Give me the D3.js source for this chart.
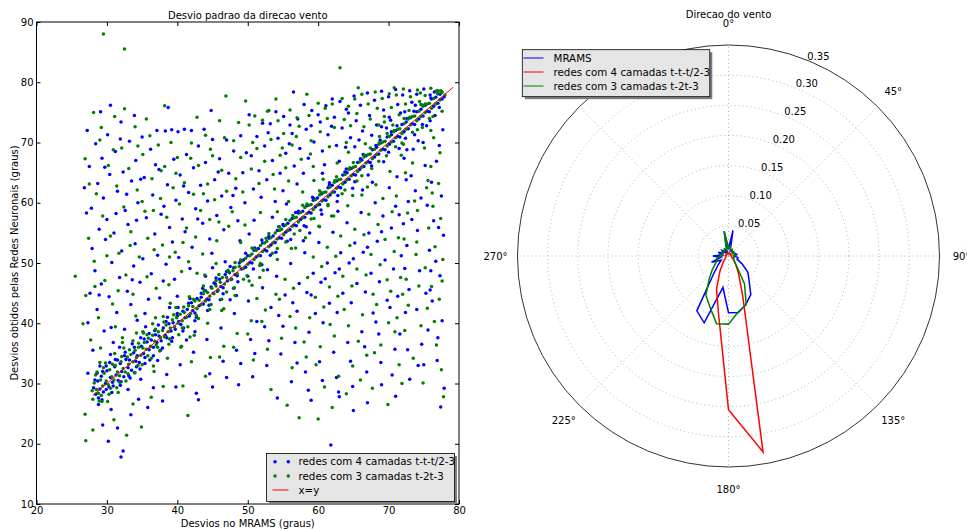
<!DOCTYPE html>
<html>
<head>
<meta charset="utf-8">
<script src="https://cdn.jsdelivr.net/npm/d3@7/dist/d3.min.js"></script>
<style>
  body { margin: 0; background: #fff; }
  svg { display: block; }
  text { font-family: "DejaVu Sans", sans-serif; font-size: 10px; fill: #000; }
</style>
</head>
<body>
<svg id="chart" width="967" height="529"></svg>
<script>
// ---------- scatter: standard deviation of wind direction ----------
const xTicks = [20, 30, 40, 50, 60, 70, 80];
const yTicks = [10, 20, 30, 40, 50, 60, 70, 80, 90];
const scatterLabels = ["redes com 4 camadas t-t-t/2-3", "redes com 3 camadas t-2t-3", "x=y"];

// 4-layer network: points along the diagonal
const blueBand = [[28.1,29.3],[28.4,28.2],[28.7,30.4],[29.0,29.1],[29.2,31.2],[29.5,28.6],[29.8,30.0],[30.0,32.1],[30.3,29.4],[30.5,31.0],[30.8,30.2],[31.1,32.8],[31.3,31.4],[31.6,30.5],[31.9,33.3],[32.1,32.0],[32.4,31.1],[32.7,34.0],[33.0,32.6],[33.2,33.9],[33.5,32.2],[33.8,35.1],[34.1,33.7],[34.3,34.6],[34.6,33.5],[34.9,36.2],[35.2,35.0],[35.4,34.3],[35.7,36.9],[36.0,35.6],[36.3,37.2],[36.6,36.0],[36.9,38.1],[37.1,36.8],[37.4,37.9],[37.7,37.1],[38.0,39.2],[38.3,38.0],[38.5,37.6],[38.8,39.9],[39.1,38.7],[39.4,40.1],[39.7,39.0],[40.0,41.2],[40.2,40.3],[40.5,39.8],[40.8,42.0],[41.1,40.9],[41.4,42.3],[41.7,41.2],[42.0,43.4],[42.2,42.1],[42.5,41.7],[42.8,44.1],[43.1,42.9],[43.4,44.3],[43.7,43.2],[44.0,45.4],[44.2,44.0],[44.5,43.9],[44.8,46.0],[45.1,45.0],[45.4,46.5],[45.7,45.3],[46.0,47.3],[46.2,46.1],[46.5,45.9],[46.8,48.1],[47.1,47.0],[47.4,48.4],[47.7,47.3],[48.0,49.2],[48.2,48.1],[48.5,47.9],[48.8,50.0],[49.1,49.0],[49.4,50.5],[49.7,49.3],[50.0,51.2],[50.3,50.1],[50.6,50.0],[50.9,52.1],[51.2,51.0],[51.5,52.4],[51.8,51.2],[52.1,53.3],[52.4,52.2],[52.7,52.0],[53.0,54.1],[53.3,53.0],[53.6,54.5],[53.9,53.4],[54.2,55.4],[54.5,54.2],[54.8,54.1],[55.1,56.2],[55.4,55.1],[55.7,56.6],[56.0,55.5],[56.3,57.4],[56.6,56.3],[56.9,56.2],[57.2,58.3],[57.5,57.2],[57.8,58.6],[58.1,57.6],[58.4,59.5],[58.7,58.4],[59.0,58.3],[59.3,60.4],[59.6,59.3],[59.9,60.8],[60.2,59.7],[60.5,61.5],[60.8,60.5],[61.1,60.4],[61.4,62.5],[61.7,61.3],[62.0,62.9],[62.3,61.8],[62.6,63.6],[62.9,62.6],[63.2,62.5],[63.5,64.6],[63.8,63.4],[64.1,65.0],[64.4,63.9],[64.7,65.7],[65.0,64.7],[65.3,64.6],[65.6,66.7],[65.9,65.5],[66.2,67.1],[66.5,66.0],[66.8,67.8],[67.1,66.8],[67.4,66.7],[67.7,68.8],[68.0,67.6],[68.3,69.2],[68.6,68.1],[68.9,69.9],[69.2,68.9],[69.5,68.8],[69.8,70.9],[70.1,69.7],[70.4,71.3],[70.7,70.2],[71.0,72.0],[71.3,71.0],[71.6,70.9],[71.9,73.0],[72.2,71.8],[72.5,73.4],[72.8,72.3],[73.1,74.1],[73.4,73.1],[73.7,73.0],[74.0,75.1],[74.3,73.9],[74.6,75.5],[74.9,74.4],[75.2,76.2],[75.5,75.2],[75.8,75.1],[76.1,77.2],[76.4,76.0],[76.7,77.5],[77.0,76.5],[77.3,78.0],[77.6,77.2],[77.9,77.6]];

// 4-layer network: the looser edge of the diagonal band
const blueHalo = [[28.6,31.7],[29.3,27.3],[29.9,32.9],[30.7,28.5],[31.2,34.0],[31.9,29.7],[32.6,35.2],[33.3,30.9],[33.9,36.0],[34.7,32.4],[35.3,37.4],[36.1,33.9],[36.8,38.8],[37.6,35.5],[38.4,40.3],[39.2,37.0],[40.0,41.6],[40.8,38.7],[41.6,43.3],[42.5,40.4],[43.4,45.0],[44.3,42.1],[45.2,46.7],[46.1,43.9],[47.0,48.6],[48.0,45.8],[49.0,50.4],[50.0,47.8],[51.0,52.5],[52.0,49.7],[53.0,54.4],[54.0,51.8],[55.0,56.4],[56.1,53.9],[57.2,58.6],[58.3,56.0],[59.4,60.7],[60.5,58.1],[61.6,62.9],[62.7,60.2],[63.8,65.1],[64.9,62.4],[66.0,67.3],[67.1,64.6],[68.2,69.5],[69.3,66.8],[70.4,71.8],[71.5,69.0],[72.6,74.0],[73.7,71.3],[74.8,76.2],[75.9,73.6],[77.0,78.1],
  [28.3,30.6],[28.8,27.6],[29.4,32.0],[29.9,29.0],[30.4,33.5],[30.9,29.6],[31.5,33.9],[32.0,30.3],[32.5,34.6],[33.1,31.3],[33.6,36.6],[34.2,32.8],[34.8,37.6],[35.4,33.3],[36.0,38.3],[36.6,34.6],[37.3,39.7],[37.9,35.9],[38.6,41.0],[39.3,37.6],[40.1,42.6],[40.9,39.2],[41.8,44.1],[42.7,41.0],[43.6,45.8],[44.5,43.0],[45.5,47.5],[46.5,44.9],[47.5,49.4],[48.6,46.9],[49.7,51.6],[50.8,49.0],[52.0,53.8],[53.2,51.3],[54.4,56.0],[55.6,53.6],[56.8,58.4],[58.0,56.2],[59.2,60.9],[60.4,58.8],[61.6,63.3],[62.8,61.2],[64.0,65.6],[65.2,63.5],[66.4,68.0],[67.6,66.1],[68.8,70.4],[70.0,68.4],[71.2,72.8],[72.4,70.7],[73.6,75.2],[74.8,73.0],[76.0,77.4],[77.2,75.8],
  [30.5,34.8],[33.0,29.0],[35.5,39.4],[37.2,33.8],[40.0,44.5],[42.5,38.6],[45.0,49.2],[47.5,43.9],[50.2,54.8],[52.8,48.9],[55.5,59.8],[57.9,53.7],[60.6,64.9],[62.8,58.6],[65.2,69.3],[67.7,63.4],[70.1,74.2],[72.6,68.8],[31.8,36.0],[34.8,30.7],[38.9,42.6],[41.3,37.2],[44.0,47.8],[48.4,44.6],[53.5,57.6],[58.8,55.0],[63.0,66.9],[66.3,62.1],[69.0,72.6],[74.2,70.3]];

// 4-layer network: points away from the diagonal
const blueCloud = [[26.8,62.5],[27.2,72.0],[27.5,66.0],[27.1,58.3],[27.9,52.4],[27.6,45.0],[27.3,40.1],[28.0,35.5],[28.4,69.8],[28.7,63.2],[28.9,55.6],[28.3,48.7],[28.6,42.3],[29.1,75.1],[29.3,67.4],[29.5,60.8],[29.8,53.9],[29.2,46.5],[29.6,38.7],[30.1,71.3],[30.4,64.7],[30.0,57.2],[30.7,50.1],[30.3,44.4],[30.9,36.8],[31.2,68.5],[31.5,61.9],[31.0,55.0],[31.8,47.6],[31.4,41.8],[32.0,73.4],[32.3,65.1],[32.6,58.7],[32.1,52.0],[32.9,45.3],[32.5,39.0],[33.2,70.2],[33.5,63.6],[33.0,56.4],[33.8,49.5],[33.4,43.1],[34.1,67.0],[34.4,60.0],[34.0,53.2],[34.7,46.8],[34.3,40.5],[35.0,70.9],[35.3,64.2],[35.6,57.5],[35.1,50.7],[35.9,44.0],
  [36.2,68.9],[36.5,61.3],[36.8,54.8],[36.3,48.2],[37.1,72.0],[37.4,65.5],[37.7,58.1],[37.2,51.3],[38.0,47.0],[38.3,71.9],[38.6,63.0],[38.9,55.9],[38.4,49.8],[39.2,72.1],[39.5,67.2],[39.8,60.4],[39.3,53.5],[40.1,71.8],[40.4,64.6],[40.7,57.3],[40.2,50.9],[41.0,72.2],[41.3,68.0],[41.6,61.7],[41.1,55.2],[42.0,72.0],[42.3,65.8],[42.6,59.0],[42.1,52.6],[43.0,69.4],[43.3,62.9],[43.6,56.6],[44.0,66.7],[44.3,60.3],[44.6,54.0],[45.0,70.5],[45.3,63.8],[45.6,57.9],[46.0,67.3],[46.3,61.1],[46.6,55.5],[47.0,70.4],[47.3,64.9],[47.6,59.2],[48.0,68.6],[48.3,62.4],[48.6,57.0],[49.0,71.1],[49.3,65.0],[49.6,60.0],
  [50.2,74.6],[50.5,67.8],[50.8,62.3],[51.3,71.0],[51.6,65.3],[52.1,73.2],[52.4,69.4],[52.7,63.8],[53.2,73.1],[53.5,67.0],[54.0,75.1],[54.3,70.7],[54.6,64.9],[55.1,74.3],[55.4,68.2],[56.0,72.9],[56.3,71.5],[56.6,66.1],[57.1,73.9],[57.4,69.0],[58.0,76.3],[58.3,72.2],[58.6,67.4],[59.1,75.3],[59.4,70.1],[60.0,74.6],[60.3,73.4],[60.6,68.6],[61.1,76.1],[61.4,71.3],[62.0,77.2],[62.3,74.2],[62.6,69.5],[63.1,76.8],[63.4,72.4],[64.0,75.5],[64.3,74.9],[64.6,70.8],
  [65.1,77.7],[65.4,73.6],[66.0,76.2],[66.3,71.9],[67.0,78.2],[67.3,74.5],[68.0,77.0],[68.3,72.9],[69.0,78.5],[69.3,75.4],[70.0,77.6],[70.3,73.7],[71.0,78.8],[71.3,76.3],[72.0,77.9],[72.3,75.1],[73.0,78.6],[73.3,76.7],[74.0,78.0],[75.0,78.9],[75.9,77.9],[76.5,78.4],[77.3,77.1],
  [72.2,67.4],[72.5,63.8],[72.8,60.2],[72.1,56.5],[72.6,52.9],[72.3,49.1],[72.9,45.6],[72.4,41.8],[73.5,68.9],[73.8,62.0],[74.1,55.4],[74.4,48.7],[74.0,42.3],[74.7,36.5],[75.2,66.2],[75.5,59.6],[75.8,52.1],[75.3,45.0],[75.6,38.9],[76.1,63.4],[76.4,57.0],[76.7,50.3],[76.2,43.7],[76.9,33.8],[77.2,69.5],[77.5,61.1],[77.8,54.6],[77.3,47.9],[77.6,40.4],[77.9,29.2],[77.4,26.1],
  [70.1,62.5],[70.4,55.8],[70.7,49.0],[70.2,42.6],[70.9,35.7],[71.2,64.3],[71.5,58.0],[71.8,51.2],[71.3,44.5],[71.6,38.2],[68.1,60.0],[68.4,53.6],[68.7,46.9],[68.2,40.2],[68.9,33.5],[69.2,57.8],[69.5,50.5],[69.8,43.8],[66.1,58.4],[66.4,51.8],[66.7,45.2],[66.2,38.6],[66.9,31.9],[67.2,55.0],[67.5,48.3],[67.8,41.7],[64.1,56.7],[64.4,50.0],[64.7,43.4],[64.2,36.8],[64.9,29.5],[65.2,53.3],[65.5,46.6],[62.1,55.1],[62.4,48.4],[62.7,41.8],[62.2,35.2],[62.9,28.6],[63.2,51.7],[63.5,45.0],[60.1,53.4],[60.4,46.8],[60.7,40.1],[60.2,33.6],[61.8,19.8],[61.3,50.0],[61.6,43.3],[58.1,51.7],[58.4,45.1],[58.7,38.5],[58.2,31.9],[59.3,48.3],[59.6,41.6],[56.1,49.9],[56.4,43.4],[56.7,36.8],[56.2,30.3],[57.3,46.6],[54.1,47.8],[54.4,41.3],[54.7,34.9],[54.2,27.6],[55.3,44.7],[52.1,45.9],[52.4,39.4],[52.7,33.0],[53.3,42.6],[50.1,43.7],[50.4,37.3],[50.7,31.1],[51.3,40.3],[48.1,41.6],[48.4,35.5],[48.7,29.8],[46.2,39.2],[46.5,33.7],[44.2,37.3],[44.6,31.6],[42.3,35.2],[42.7,28.4],[40.4,33.1],[38.5,31.5],[36.6,29.3],
  [32.0,17.8],[32.3,18.8],[30.2,20.4],[29.4,23.1],[30.6,25.7],[31.5,22.6],[33.4,24.8],[28.8,26.5],[34.5,27.4],[27.3,31.7],[29.0,32.9],
  [27.8,59.1],[28.9,44.7],[29.7,65.9],[30.6,39.3],[31.3,58.2],[31.9,70.6],[32.8,61.4],[33.6,47.2],[34.2,57.1],[34.8,63.9],[35.4,41.6],[36.9,66.3],[37.5,44.2],[38.1,59.4],[39.6,47.3],[40.9,62.8],[41.8,49.1],[42.9,57.3],[43.8,72.2],[44.9,51.6],[45.8,65.1],[46.8,50.2],[47.9,61.2],[48.9,53.7],[49.8,68.3],[50.9,57.1],[51.9,60.9],[52.9,71.6],[53.9,60.2],[55.0,62.0],[55.9,69.8],[57.0,63.1],[57.9,64.9],[59.0,72.8],[60.9,66.3],[61.9,72.7],[63.9,69.2],[65.8,70.4],[67.6,71.2],[69.7,72.4],[71.7,74.9],[73.8,76.2],[75.4,72.8],[76.6,74.5],[77.7,72.1],[74.9,70.0],[73.2,64.5],[71.0,59.4],[69.0,55.2],[67.0,52.6],[65.0,50.7],[63.0,49.0],[61.0,47.4],[59.0,44.7],[57.0,42.0],[55.0,39.5],[53.0,37.1],[51.0,35.0],[49.0,33.3],[47.0,31.0],[45.0,29.4],[43.0,27.3],[39.8,29.4],[37.9,27.1],[35.8,26.0],[76.0,48.7],[77.0,37.6],[75.0,33.1],[73.0,30.7],[71.0,27.9],[69.0,29.8],[67.0,26.8],[65.0,25.5],[63.0,27.8],[59.0,27.2],[57.0,33.4],[74.6,60.8],[76.8,66.9],[73.3,57.2],[75.9,45.5],[77.1,55.9],[72.7,35.6],[74.2,33.0],[70.5,31.4],[68.6,38.2],[66.6,36.1],[64.6,33.7],[62.6,31.0],[60.6,30.5],[58.6,28.9],[44.8,75.3],[38.7,75.8],[33.9,74.5],[30.5,76.2],[56.5,78.4]];

// 3-layer network: points along the diagonal
const greenBand = [[27.9,28.8],[28.2,30.1],[28.5,29.0],[28.8,28.4],[29.1,30.6],[29.4,29.6],[29.6,31.7],[29.9,30.4],[30.2,29.8],[30.4,32.3],[30.7,31.1],[31.0,30.6],[31.2,33.0],[31.5,31.9],[31.8,31.3],[32.0,33.6],[32.3,32.5],[32.6,31.9],[32.9,34.4],[33.1,33.2],[33.4,34.8],[33.7,33.6],[34.0,35.5],[34.2,34.3],[34.5,36.0],[34.8,34.7],[35.1,35.9],[35.3,36.8],[35.6,35.7],[35.9,37.5],[36.2,36.2],[36.5,38.0],[36.8,37.0],[37.0,36.4],[37.3,38.6],[37.6,37.6],[37.9,38.8],[38.2,37.7],[38.4,39.7],[38.7,38.6],[39.0,39.2],[39.3,40.6],[39.6,39.4],[39.9,40.9],[40.1,40.0],[40.4,41.5],[40.7,40.4],[41.0,41.8],[41.3,41.0],[41.6,42.9],[41.9,41.6],[42.2,42.8],[42.5,43.7],[42.8,42.4],[43.1,43.8],[43.4,43.1],[43.7,44.9],[44.0,43.7],[44.3,45.1],[44.6,44.5],[44.9,45.8],[45.2,44.9],[45.5,46.2],[45.8,45.5],[46.1,46.8],[46.4,47.6],[46.7,46.5],[47.0,47.6],[47.3,48.5],[47.6,47.2],[47.9,48.7],[48.2,49.3],[48.5,48.2],[48.8,49.4],[49.1,50.3],[49.4,49.1],[49.7,50.8],[50.0,49.8],[50.3,51.2],[50.6,51.5],[50.9,50.6],[51.2,52.1],[51.5,51.2],[51.8,52.9],[52.1,51.9],[52.4,53.3],[52.7,53.6],[53.0,52.7],[53.3,54.2],[53.6,53.3],[53.9,55.0],[54.2,54.0],[54.5,55.4],[54.8,55.6],[55.1,54.7],[55.4,56.3],[55.7,55.4],[56.0,57.1],[56.3,56.1],[56.6,57.5],[56.9,57.6],[57.2,56.8],[57.5,58.4],[57.8,57.5],[58.1,59.2],[58.4,58.2],[58.7,59.6],[59.0,59.7],[59.3,58.9],[59.6,60.5],[59.9,59.6],[60.2,61.3],[60.5,60.3],[60.8,61.7],[61.1,61.8],[61.4,61.0],[61.7,62.6],[62.0,61.7],[62.3,63.4],[62.6,62.4],[62.9,63.8],[63.2,63.9],[63.5,63.1],[63.8,64.7],[64.1,63.8],[64.4,65.5],[64.7,64.5],[65.0,65.9],[65.3,66.0],[65.6,65.2],[65.9,66.8],[66.2,65.9],[66.5,67.6],[66.8,66.6],[67.1,68.0],[67.4,68.1],[67.7,67.3],[68.0,68.9],[68.3,68.0],[68.6,69.7],[68.9,68.7],[69.2,70.1],[69.5,70.2],[69.8,69.4],[70.1,71.0],[70.4,70.1],[70.7,71.8],[71.0,70.8],[71.3,72.2],[71.6,72.3],[71.9,71.5],[72.2,73.1],[72.5,72.2],[72.8,73.9],[73.1,72.9],[73.4,74.3],[73.7,74.4],[74.0,73.6],[74.3,75.2],[74.6,74.3],[74.9,76.0],[75.2,75.0],[75.5,76.4],[75.8,76.5],[76.1,75.7],[76.4,77.3],[76.7,76.4],[77.0,78.1],[77.3,77.1],[77.6,78.4],[78.0,77.9]];

// 3-layer network: the looser edge of the diagonal band
const greenHalo = [[28.4,31.4],[28.9,27.1],[29.5,32.6],[30.3,28.2],[30.8,33.2],[31.4,29.3],[32.1,34.5],[32.7,30.4],[33.2,35.6],[33.9,31.8],[34.5,36.7],[35.0,33.1],[35.7,38.1],[36.3,34.2],[36.9,39.0],[37.5,35.4],[38.1,40.2],[38.8,36.5],[39.5,41.4],[40.2,38.1],[40.9,42.7],[41.5,39.4],[42.3,44.0],[43.0,40.8],[43.8,45.4],[44.6,42.3],[45.5,47.1],[46.3,44.0],[47.2,48.8],[48.1,45.9],[49.0,50.5],[49.9,47.9],[50.8,52.4],[51.7,49.6],[52.6,54.1],[53.5,51.6],[54.5,56.0],[55.4,53.5],[56.4,57.9],[57.4,55.4],[58.4,59.8],[59.4,57.4],[60.4,61.7],[61.4,59.5],[62.4,63.7],[63.4,61.5],[64.5,65.8],[65.5,63.6],[66.6,67.9],[67.6,65.7],[68.7,70.0],[69.7,67.8],[70.8,72.0],[71.9,69.9],[73.0,74.2],[74.1,72.1],[75.2,76.4],[76.3,74.3],[77.4,78.6],
  [28.0,27.4],[28.6,31.9],[29.2,28.0],[29.8,33.4],[30.5,29.2],[31.1,35.0],[31.8,30.2],[32.4,35.9],[33.0,31.6],[33.7,37.1],[34.4,33.0],[35.1,38.6],[35.8,34.6],[36.5,39.9],[37.2,36.0],[38.0,41.1],[38.9,37.4],[39.8,42.6],[40.7,39.2],[41.7,44.4],[42.7,41.3],[43.7,46.2],[44.8,43.1],[45.9,48.1],[47.0,45.2],[48.2,50.1],[49.4,47.3],[50.6,52.5],[51.8,49.9],[53.0,54.9],[54.2,52.4],[55.4,57.2],[56.6,54.8],[57.8,59.6],[59.0,57.3],[60.2,62.0],[61.4,59.7],[62.6,64.3],[63.8,62.1],[65.0,66.7],[66.2,64.5],[67.4,69.1],[68.6,66.9],[69.8,71.5],[71.0,69.3],[72.2,74.0],[73.4,71.7],[74.6,76.3],[75.8,74.0],[77.0,78.6],
  [29.0,33.5],[31.6,28.5],[34.2,38.4],[36.6,32.9],[39.0,43.3],[41.8,37.7],[43.9,48.0],[46.6,42.4],[49.0,53.4],[51.7,47.6],[54.2,58.5],[56.8,52.5],[59.4,63.7],[61.9,57.8],[64.3,68.4],[67.0,62.6],[69.4,73.4],[71.8,67.9],[74.5,78.2],[76.0,72.0],[30.1,27.0],[32.2,36.8],[36.9,40.9],[40.6,36.2],[45.5,49.9],[50.6,46.3],[55.8,60.2],[60.1,56.1],[64.9,61.2],[68.6,72.9]];

// 3-layer network: points away from the diagonal
const greenCloud = [[26.9,67.3],[27.4,54.1],[27.0,44.6],[27.7,37.2],[28.1,75.0],[28.5,61.5],[28.2,50.3],[28.8,40.9],[29.0,70.4],[29.4,57.8],[29.7,47.1],[29.1,35.9],[30.2,66.2],[30.5,54.5],[30.8,43.2],[31.1,74.3],[31.4,62.8],[31.7,51.6],[31.2,39.4],[32.1,69.1],[32.4,59.3],[32.7,48.0],[32.2,37.6],[33.1,65.7],[33.4,55.2],[33.7,44.8],[34.0,72.6],[34.3,62.1],[34.6,51.0],[34.1,41.2],[35.1,68.0],[35.4,58.6],[35.7,47.7],[35.2,38.4],
  [36.1,71.1],[36.4,64.0],[36.7,52.2],[37.0,45.8],[37.3,69.6],[37.6,60.7],[37.9,53.0],[38.2,66.0],[38.5,57.6],[38.8,46.4],[39.1,70.0],[39.4,62.5],[39.7,51.8],[40.0,67.5],[40.3,59.8],[40.6,48.6],[41.0,63.3],[41.3,55.8],[41.6,50.2],[42.0,69.9],[42.3,61.4],[42.6,54.3],[43.0,66.2],[43.3,58.7],[43.6,51.5],[44.0,71.2],[44.3,63.1],[44.6,57.2],[45.0,67.8],[45.3,60.5],[45.6,53.7],[46.0,73.6],[46.3,65.4],[46.9,77.7],[47.0,61.9],[47.3,56.1],[48.0,70.3],[48.3,64.0],[49.0,67.5],[49.3,61.8],
  [50.2,72.9],[50.5,65.6],[51.0,74.4],[51.3,69.0],[51.6,63.2],[52.1,73.7],[52.4,66.9],[53.0,75.3],[53.3,70.5],[53.6,64.7],[54.0,77.2],[54.3,73.6],[54.6,67.9],[55.1,71.5],[55.4,65.8],[56.0,75.4],[56.3,69.6],[57.0,74.1],[57.3,72.7],[57.6,67.2],[58.4,78.0],[58.7,74.5],[59.0,70.3],[59.3,66.0],[60.0,76.5],[60.3,71.8],[61.0,75.7],[61.3,74.0],[61.6,69.3],[62.0,76.4],[62.3,72.5],[63.1,82.4],[63.4,77.3],[63.7,73.8],[64.0,70.0],[64.3,76.0],
  [65.2,77.2],[65.7,79.1],[65.5,74.8],[66.2,78.0],[66.5,72.6],[67.1,76.4],[67.4,73.9],[68.1,78.4],[68.4,75.7],[69.1,77.3],[69.4,74.3],[70.1,78.1],[70.4,75.8],[70.8,79.1],[71.1,77.9],[71.5,74.6],[72.1,78.9],[72.4,76.4],[73.1,77.6],[74.1,78.7],[74.4,76.8],[75.2,77.8],[76.0,79.0],[76.8,78.6],[77.5,78.3],
  [72.1,69.7],[72.4,65.0],[72.7,58.3],[72.2,54.0],[72.5,47.3],[72.8,43.0],[72.3,38.8],[73.4,66.6],[73.7,60.3],[74.0,53.5],[74.3,46.2],[74.6,39.6],[75.1,69.1],[75.4,62.5],[75.7,55.8],[75.2,49.2],[75.5,42.5],[76.0,66.0],[76.3,59.4],[76.6,52.7],[76.1,46.1],[76.8,36.4],[77.1,63.2],[77.4,57.4],[77.7,50.6],[77.2,44.0],[77.5,32.3],[77.8,27.8],
  [70.2,65.2],[70.5,58.5],[70.8,51.9],[70.3,45.3],[70.9,38.6],[71.1,61.1],[71.4,54.2],[71.7,47.6],[71.2,40.9],[71.5,33.1],[68.2,63.0],[68.5,56.4],[68.8,49.7],[68.3,43.1],[68.9,36.4],[69.2,60.7],[69.5,53.9],[69.8,47.2],[66.2,61.3],[66.5,54.7],[66.8,48.0],[66.3,41.4],[66.9,34.7],[67.2,58.1],[67.5,51.4],[67.8,44.8],[64.2,59.5],[64.5,52.9],[64.8,46.2],[64.3,39.6],[64.9,32.9],[65.2,55.6],[65.5,49.0],[62.2,57.8],[62.5,51.1],[62.8,44.5],[62.3,37.9],[62.9,31.2],[63.2,54.5],[63.5,47.8],[60.2,56.0],[60.5,49.4],[60.8,42.7],[60.3,36.1],[60.9,29.4],[61.3,52.6],[61.6,46.0],[58.2,54.2],[58.5,47.6],[58.8,40.9],[58.3,34.4],[59.3,51.0],[59.6,44.3],[56.2,52.4],[56.5,45.8],[56.8,39.2],[56.3,32.6],[57.3,24.3],[54.2,50.6],[54.5,44.0],[54.8,37.5],[55.3,47.3],[52.2,48.8],[52.5,42.2],[52.8,35.7],[53.3,29.0],[50.2,47.0],[50.5,40.4],[50.8,33.9],[51.3,44.1],[48.2,44.6],[48.5,38.3],[46.3,42.1],[46.6,36.2],[44.3,40.0],[44.7,34.3],[42.4,38.0],[40.5,36.0],[40.8,29.6],[38.6,34.2],[36.7,32.0],[41.5,24.7],
  [27.0,20.5],[26.9,24.9],[28.0,22.3],[29.3,27.0],[31.0,24.0],[32.8,21.4],[33.7,26.6],[25.5,47.8],[26.6,39.9],[29.5,88.0],[32.5,85.5],[34.9,22.8],
  [27.5,63.1],[28.3,46.1],[29.2,72.5],[30.0,51.2],[30.9,68.8],[31.6,45.4],[32.5,75.6],[33.3,52.9],[34.4,69.4],[35.0,60.2],[35.8,54.1],[36.6,58.7],[37.7,65.3],[38.9,51.0],[39.8,64.9],[40.8,53.4],[41.9,67.4],[42.8,48.3],[43.7,61.5],[44.7,68.9],[45.9,56.8],[46.7,70.8],[47.8,58.5],[48.7,73.3],[49.6,56.3],[50.7,70.0],[51.8,58.4],[52.8,75.2],[53.8,62.3],[54.9,69.1],[55.8,63.6],[56.9,71.0],[57.8,61.8],[58.9,68.1],[60.7,63.9],[62.7,66.6],[64.6,72.8],[66.7,69.8],[68.7,71.0],[70.6,72.9],[72.9,75.3],[74.8,72.5],[76.4,70.8],[77.6,75.2],[75.6,63.7],[73.9,51.4],[72.0,44.8],[70.0,40.1],[68.0,35.1],[66.0,30.6],[64.0,28.3],[62.0,26.0],[60.0,24.1],[55.6,26.4],[58.0,36.9],[56.0,41.1],[54.0,44.8],[52.0,40.3],[50.0,38.2],[48.0,36.0],[46.0,34.4],[44.0,31.2],[42.0,33.6],[38.0,29.5],[36.3,27.7],[34.0,31.8],[76.5,40.3],[77.6,47.0],[74.9,30.1],[73.5,34.2],[71.9,30.0],[69.9,26.5],[67.7,29.2],[65.7,37.0],[63.7,42.3],[61.7,39.8],[59.7,33.1],[76.2,61.6],[74.1,58.7],[77.3,68.3],[38.2,76.1],[42.8,74.2],[49.7,76.9],[35.6,73.9]];

const identityLine = [[28, 28], [79.2, 79.2]];

// ---------- polar: wind direction frequency ----------
const directions = [0,10,20,30,40,50,60,70,80,90,100,110,120,130,140,150,160,170,180,190,200,210,220,230,240,250,260,270,280,290,300,310,320,330,340,350];
const mramsFreq = [0.012,0.043,0.008,0.012,0.010,0.008,0.010,0.012,0.014,0.010,0.016,0.015,0.026,0.042,0.053,0.074,0.085,0.095,0.094,0.053,0.118,0.105,0.038,0.022,0.014,0.030,0.012,0.026,0.010,0.018,0.010,0.014,0.008,0.012,0.006,0.042];
const net4Freq = [0.004,0.005,0.004,0.004,0.005,0.004,0.004,0.005,0.004,0.004,0.005,0.006,0.008,0.012,0.019,0.033,0.068,0.330,0.255,0.096,0.058,0.028,0.014,0.008,0.006,0.005,0.004,0.004,0.005,0.004,0.004,0.005,0.004,0.004,0.005,0.004];
const net3Freq = [0.012,0.016,0.010,0.012,0.009,0.011,0.008,0.010,0.012,0.008,0.010,0.009,0.010,0.012,0.020,0.053,0.086,0.094,0.113,0.114,0.090,0.075,0.050,0.035,0.025,0.020,0.020,0.012,0.015,0.010,0.012,0.010,0.012,0.014,0.010,0.041];
const radialTicks = [0.05, 0.10, 0.15, 0.20, 0.25, 0.30, 0.35];
const angleTicks = [0, 45, 90, 135, 180, 225, 270, 315];
const polarLabels = ["MRAMS", "redes com 4 camadas t-t-t/2-3", "redes com 3 camadas t-2t-3"];

const BLUE = "#0000ff", GREEN = "#008000", RED = "#ff0000";
const svg = d3.select("#chart");

// ===== scatter panel =====
const plot = { left: 36.5, right: 459, top: 22, bottom: 504 };
const x = d3.scaleLinear().domain([20, 80]).range([plot.left, plot.right]);
const y = d3.scaleLinear().domain([10, 90]).range([plot.bottom, plot.top]);

const sc = svg.append("g");

sc.append("clipPath").attr("id", "plotClip").append("rect")
  .attr("x", plot.left).attr("y", plot.top)
  .attr("width", plot.right - plot.left).attr("height", plot.bottom - plot.top);

const DOT = 1.75;
const blueAll = blueCloud.concat(blueHalo, blueBand);
const greenAll = greenCloud.concat(greenHalo, greenBand);
const pts = sc.append("g").attr("clip-path", "url(#plotClip)");
pts.selectAll("circle.b").data(blueAll).join("circle")
  .attr("class", "b").attr("cx", d => x(d[0])).attr("cy", d => y(d[1]))
  .attr("r", DOT).attr("fill", BLUE);
pts.selectAll("circle.g").data(greenAll).join("circle")
  .attr("class", "g").attr("cx", d => x(d[0])).attr("cy", d => y(d[1]))
  .attr("r", DOT).attr("fill", GREEN);
pts.append("path").datum(identityLine)
  .attr("d", d3.line().x(d => x(d[0])).y(d => y(d[1])))
  .attr("stroke", RED).attr("stroke-width", 1).attr("fill", "none");

// inward ticks on all four sides
function styleAxis(g) {
  g.select(".domain").remove();
  g.selectAll(".tick line").attr("stroke", "#000");
  g.selectAll(".tick text").style("font-family", "DejaVu Sans").style("font-size", "10px").attr("fill", "#000");
}
sc.append("g").attr("transform", `translate(0,${plot.bottom})`)
  .call(d3.axisBottom(x).tickValues(xTicks).tickSize(-4).tickPadding(3).tickFormat(d3.format("d"))).call(styleAxis);
sc.append("g").attr("transform", `translate(0,${plot.top})`)
  .call(d3.axisTop(x).tickValues(xTicks).tickSize(-4).tickFormat("")).call(styleAxis);
sc.append("g").attr("transform", `translate(${plot.left},0)`)
  .call(d3.axisLeft(y).tickValues(yTicks).tickSize(-4).tickPadding(3).tickFormat(d3.format("d"))).call(styleAxis);
sc.append("g").attr("transform", `translate(${plot.right},0)`)
  .call(d3.axisRight(y).tickValues(yTicks).tickSize(-4).tickFormat("")).call(styleAxis);

sc.append("rect").attr("x", plot.left).attr("y", plot.top)
  .attr("width", plot.right - plot.left).attr("height", plot.bottom - plot.top)
  .attr("fill", "none").attr("stroke", "#000").attr("stroke-width", 1);

sc.append("text").attr("x", (plot.left + plot.right) / 2).attr("y", 18.5)
  .attr("text-anchor", "middle").text("Desvio padrao da direcao vento");
sc.append("text").attr("x", (plot.left + plot.right) / 2).attr("y", 527)
  .attr("text-anchor", "middle").text("Desvios no MRAMS (graus)");
sc.append("text").attr("transform", `translate(17.5,${(plot.top + plot.bottom) / 2}) rotate(-90)`)
  .attr("text-anchor", "middle").text("Desvios obtidos pelas Redes Neuronais (graus)");

// legend frame with drop shadow
function legendBox(g, bx, by, bw, bh) {
  g.append("rect").attr("x", bx + 2.5).attr("y", by + 2.5).attr("width", bw).attr("height", bh)
    .attr("fill", "#7f7f7f");
  g.append("rect").attr("x", bx).attr("y", by).attr("width", bw).attr("height", bh)
    .attr("fill", "#e5e5e5").attr("stroke", "#000").attr("stroke-width", 0.8);
}
const sl = sc.append("g");
legendBox(sl, 266.5, 453.5, 188, 48);
const slRows = [461.7, 476, 490];
[BLUE, GREEN].forEach((c, i) => {
  [275, 288.3].forEach(px => sl.append("circle").attr("cx", px).attr("cy", slRows[i]).attr("r", DOT).attr("fill", c));
});
sl.append("line").attr("x1", 272.5).attr("x2", 288.5).attr("y1", slRows[2]).attr("y2", slRows[2])
  .attr("stroke", RED).attr("stroke-width", 1);
scatterLabels.forEach((t, i) => sl.append("text").attr("x", 298.5).attr("y", slRows[i])
  .attr("dy", "0.35em").style("font-size", "10.3px").text(t));

// ===== polar panel =====
const cx = 728.5, cy = 256, R = 211;
const r = d3.scaleLinear().domain([0, 0.35]).range([0, R]);
const rad = a => a * Math.PI / 180;
const pg = svg.append("g").attr("transform", `translate(${cx},${cy})`);

// dotted range rings
pg.selectAll("circle.ring").data(radialTicks.slice(0, -1)).join("circle")
  .attr("class", "ring").attr("r", d => r(d)).attr("fill", "none")
  .attr("stroke", "#a8a8a8").attr("stroke-width", 0.9).attr("stroke-dasharray", "1,3");
// dotted spokes
pg.selectAll("line.spoke").data(angleTicks).join("line")
  .attr("class", "spoke")
  .attr("x1", 0).attr("y1", 0)
  .attr("x2", d => R * Math.sin(rad(d))).attr("y2", d => -R * Math.cos(rad(d)))
  .attr("stroke", "#a8a8a8").attr("stroke-width", 0.9).attr("stroke-dasharray", "1,3");
// outer circle
pg.append("circle").attr("r", R).attr("fill", "none").attr("stroke", "#333").attr("stroke-width", 1);

// radial tick labels along 22.5 deg
pg.selectAll("text.rl").data(radialTicks).join("text")
  .attr("class", "rl")
  .attr("x", d => r(d) * Math.sin(rad(22.5)) - 2)
  .attr("y", d => -r(d) * Math.cos(rad(22.5)) - 1.5)
  .text(d => d.toFixed(2));

// angle labels
pg.selectAll("text.al").data(angleTicks).join("text")
  .attr("class", "al").attr("text-anchor", "middle").attr("dy", "0.35em")
  .attr("x", d => 233 * Math.sin(rad(d)))
  .attr("y", d => -233 * Math.cos(rad(d)))
  .text(d => d + "\u00b0");

// direction frequency curves
const radial = d3.lineRadial().angle(d => rad(d[0])).radius(d => r(d[1])).curve(d3.curveLinearClosed);
[[mramsFreq, BLUE], [net4Freq, RED], [net3Freq, GREEN]].forEach(([vals, col]) => {
  pg.append("path").datum(directions.map((a, i) => [a, vals[i]]))
    .attr("d", radial).attr("fill", "none").attr("stroke", col)
    .attr("stroke-width", 1.5).attr("stroke-linejoin", "miter");
});

svg.append("text").attr("x", cx).attr("y", 17.5).attr("text-anchor", "middle").text("Direcao do vento");

// polar legend
const pl = svg.append("g");
legendBox(pl, 522.3, 49.7, 187.5, 47);
const plRows = [58, 72, 86];
[BLUE, RED, GREEN].forEach((c, i) => {
  pl.append("line").attr("x1", 523.5).attr("x2", 543.5).attr("y1", plRows[i]).attr("y2", plRows[i])
    .attr("stroke", c).attr("stroke-width", 1);
  pl.append("text").attr("x", 553.5).attr("y", plRows[i]).attr("dy", "0.35em")
    .style("font-size", "10.3px").text(polarLabels[i]);
});
</script>
</body>
</html>
